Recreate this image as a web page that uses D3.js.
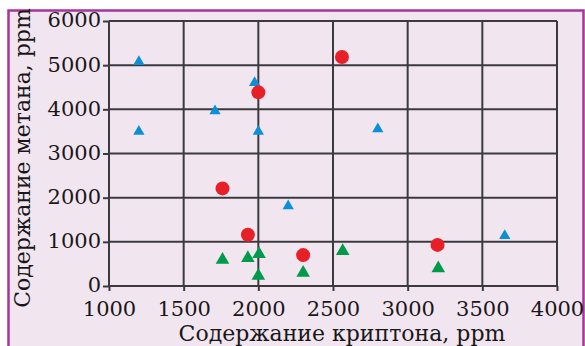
<!DOCTYPE html>
<html>
<head>
<meta charset="utf-8">
<script src="https://cdn.jsdelivr.net/npm/d3@7"></script>
<style>
  html, body { margin: 0; padding: 0; background: #fff; }
  svg { display: block; }
  .tick text { font-family: "DejaVu Serif", serif; font-size: 21px; fill: #1a1718; }
</style>
</head>
<body>
<div id="chart"></div>
<script>
// data: krypton (x) vs methane (y), ppm
const xTicks = [1000, 1500, 2000, 2500, 3000, 3500, 4000];
const yTicks = [0, 1000, 2000, 3000, 4000, 5000, 6000];

const blueKr = [1200, 1200, 1710, 1975, 2000, 2200, 2800, 3650];
const blueCh4 = [5080, 3500, 3960, 4600, 3500, 1810, 3555, 1140];

const redKr = [2560, 2000, 1760, 1930, 2300, 3200];
const redCh4 = [5185, 4385, 2210, 1160, 700, 930];

const greenKr = [1760, 1930, 2005, 2000, 2300, 2565, 3205];
const greenCh4 = [590, 630, 720, 230, 300, 790, 400];

const xTitle = "Содержание криптона, ppm";
const yTitle = "Содержание метана, ppm";

// layout
const W = 585, H = 346;
const margin = { top: 21, right: 28, bottom: 60, left: 109 };
const width = W - margin.left - margin.right;
const height = H - margin.top - margin.bottom;

const svg = d3.select("#chart").append("svg")
	.attr("width", W)
	.attr("height", H);

// frame
svg.append("rect")
	.attr("x", 8.5).attr("y", 10.5)
	.attr("width", 575).attr("height", 345)
	.attr("fill", "#f1e6f0")
	.attr("stroke", "#a8339b")
	.attr("stroke-width", 2.5);

const g = svg.append("g")
	.attr("transform", `translate(${margin.left},${margin.top})`);

const x = d3.scaleLinear().domain([1000, 4000]).range([0, width]);
const y = d3.scaleLinear().domain([0, 6000]).range([height, 0]);

const gridColor = "#3d3a3f";

// grid
g.append("g").selectAll("line")
	.data(xTicks)
	.join("line")
	.attr("x1", d => x(d)).attr("x2", d => x(d))
	.attr("y1", 0).attr("y2", height)
	.attr("stroke", gridColor).attr("stroke-width", 2);

g.append("g").selectAll("line")
	.data(yTicks)
	.join("line")
	.attr("x1", 0).attr("x2", width)
	.attr("y1", d => y(d)).attr("y2", d => y(d))
	.attr("stroke", gridColor).attr("stroke-width", 2);

// axes
const xAxis = d3.axisBottom(x).tickValues(xTicks).tickSize(5).tickPadding(10).tickFormat(d3.format("d"));
const yAxis = d3.axisLeft(y).tickValues(yTicks).tickSize(6).tickPadding(2).tickFormat(d3.format("d"));

g.append("g")
	.attr("transform", `translate(0,${height})`)
	.call(xAxis)
	.call(a => a.select(".domain").remove())
	.call(a => a.selectAll(".tick line").attr("stroke", gridColor).attr("stroke-width", 2));

g.append("g")
	.call(yAxis)
	.call(a => a.select(".domain").remove())
	.call(a => a.selectAll(".tick line").attr("stroke", gridColor).attr("stroke-width", 2))
	.call(a => a.selectAll(".tick text").attr("dy", "0.28em"));

// titles
svg.append("text")
	.attr("x", 342).attr("y", 341)
	.attr("text-anchor", "middle")
	.attr("font-family", "DejaVu Serif, serif")
	.attr("font-size", 22)
	.attr("fill", "#1a1718")
	.text(xTitle);

svg.append("text")
	.attr("transform", "translate(30,158) rotate(-90)")
	.attr("text-anchor", "middle")
	.attr("font-family", "DejaVu Serif, serif")
	.attr("font-size", 22)
	.attr("fill", "#1a1718")
	.text(yTitle);

// points
const tri = (size) => d3.symbol().type(d3.symbolTriangle).size(size);

g.append("g").selectAll("path")
	.data(d3.zip(blueKr, blueCh4))
	.join("path")
	.attr("transform", d => `translate(${x(d[0])},${y(d[1])})`)
	.attr("d", tri(55))
	.attr("fill", "#0b8fd7");

g.append("g").selectAll("path")
	.data(d3.zip(greenKr, greenCh4))
	.join("path")
	.attr("transform", d => `translate(${x(d[0])},${y(d[1])})`)
	.attr("d", tri(80))
	.attr("fill", "#009a4b");

g.append("g").selectAll("circle")
	.data(d3.zip(redKr, redCh4))
	.join("circle")
	.attr("cx", d => x(d[0]))
	.attr("cy", d => y(d[1]))
	.attr("r", 7)
	.attr("fill", "#e81f27");
</script>
</body>
</html>
